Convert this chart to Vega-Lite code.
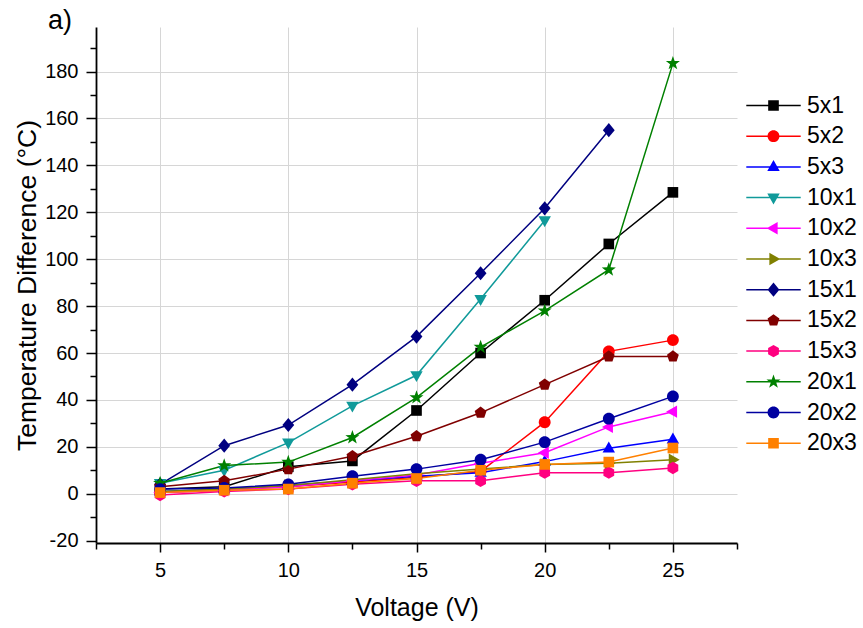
{
  "$schema": "https://vega.github.io/schema/vega-lite/v6.json",
  "autosize": {"type": "none"},
  "width": 641,
  "height": 516,
  "padding": {"left": 96, "top": 27, "right": 126, "bottom": 85},
  "background": "white",
  "config": {"font": "Liberation Sans", "view": {"stroke": null}},
  "title": {"text": "a)", "anchor": "start", "frame": "group", "dx": -48, "dy": 28, "offset": -1, "baseline": "alphabetic", "fontSize": 27, "fontWeight": "normal", "color": "black", "font": "Liberation Sans"},
  "data": {"values": [
    {"s": "5x1", "v": 5, "t": 2}, {"s": "5x1", "v": 7.5, "t": 3}, {"s": "5x1", "v": 10, "t": 11.5}, {"s": "5x1", "v": 12.5, "t": 14}, {"s": "5x1", "v": 15, "t": 35.5}, {"s": "5x1", "v": 17.5, "t": 60}, {"s": "5x1", "v": 20, "t": 82.5}, {"s": "5x1", "v": 22.5, "t": 106.5}, {"s": "5x1", "v": 25, "t": 128.5},
    {"s": "5x2", "v": 5, "t": 0.5}, {"s": "5x2", "v": 7.5, "t": 1.5}, {"s": "5x2", "v": 10, "t": 3}, {"s": "5x2", "v": 12.5, "t": 5}, {"s": "5x2", "v": 15, "t": 7}, {"s": "5x2", "v": 17.5, "t": 9.5}, {"s": "5x2", "v": 20, "t": 30.5}, {"s": "5x2", "v": 22.5, "t": 60.7}, {"s": "5x2", "v": 25, "t": 65.5},
    {"s": "5x3", "v": 5, "t": 1}, {"s": "5x3", "v": 7.5, "t": 2}, {"s": "5x3", "v": 10, "t": 3.5}, {"s": "5x3", "v": 12.5, "t": 5.5}, {"s": "5x3", "v": 15, "t": 7.5}, {"s": "5x3", "v": 17.5, "t": 9}, {"s": "5x3", "v": 20, "t": 13.7}, {"s": "5x3", "v": 22.5, "t": 19.4}, {"s": "5x3", "v": 25, "t": 23.2},
    {"s": "10x1", "v": 5, "t": 4.5}, {"s": "10x1", "v": 7.5, "t": 10}, {"s": "10x1", "v": 10, "t": 21.8}, {"s": "10x1", "v": 12.5, "t": 37.5}, {"s": "10x1", "v": 15, "t": 50.5}, {"s": "10x1", "v": 17.5, "t": 83}, {"s": "10x1", "v": 20, "t": 116.5},
    {"s": "10x2", "v": 5, "t": 0.5}, {"s": "10x2", "v": 7.5, "t": 1.5}, {"s": "10x2", "v": 10, "t": 3}, {"s": "10x2", "v": 12.5, "t": 5.5}, {"s": "10x2", "v": 15, "t": 8}, {"s": "10x2", "v": 17.5, "t": 13}, {"s": "10x2", "v": 20, "t": 17.5}, {"s": "10x2", "v": 22.5, "t": 28.5}, {"s": "10x2", "v": 25, "t": 35},
    {"s": "10x3", "v": 5, "t": 1}, {"s": "10x3", "v": 7.5, "t": 2}, {"s": "10x3", "v": 10, "t": 3.5}, {"s": "10x3", "v": 12.5, "t": 6}, {"s": "10x3", "v": 15, "t": 8.5}, {"s": "10x3", "v": 17.5, "t": 10.5}, {"s": "10x3", "v": 20, "t": 12.5}, {"s": "10x3", "v": 22.5, "t": 13}, {"s": "10x3", "v": 25, "t": 14.5},
    {"s": "15x1", "v": 5, "t": 4}, {"s": "15x1", "v": 7.5, "t": 20.5}, {"s": "15x1", "v": 10, "t": 29.3}, {"s": "15x1", "v": 12.5, "t": 46.5}, {"s": "15x1", "v": 15, "t": 67}, {"s": "15x1", "v": 17.5, "t": 94}, {"s": "15x1", "v": 20, "t": 121.7}, {"s": "15x1", "v": 22.5, "t": 155},
    {"s": "15x2", "v": 5, "t": 3}, {"s": "15x2", "v": 7.5, "t": 5.5}, {"s": "15x2", "v": 10, "t": 10.5}, {"s": "15x2", "v": 12.5, "t": 16}, {"s": "15x2", "v": 15, "t": 24.5}, {"s": "15x2", "v": 17.5, "t": 34.5}, {"s": "15x2", "v": 20, "t": 46.5}, {"s": "15x2", "v": 22.5, "t": 58.5}, {"s": "15x2", "v": 25, "t": 58.5},
    {"s": "15x3", "v": 5, "t": -0.5}, {"s": "15x3", "v": 7.5, "t": 1}, {"s": "15x3", "v": 10, "t": 2}, {"s": "15x3", "v": 12.5, "t": 4}, {"s": "15x3", "v": 15, "t": 5.5}, {"s": "15x3", "v": 17.5, "t": 5.5}, {"s": "15x3", "v": 20, "t": 9}, {"s": "15x3", "v": 22.5, "t": 9}, {"s": "15x3", "v": 25, "t": 11},
    {"s": "20x1", "v": 5, "t": 4.5}, {"s": "20x1", "v": 7.5, "t": 12}, {"s": "20x1", "v": 10, "t": 13.5}, {"s": "20x1", "v": 12.5, "t": 24}, {"s": "20x1", "v": 15, "t": 41}, {"s": "20x1", "v": 17.5, "t": 62.5}, {"s": "20x1", "v": 20, "t": 78}, {"s": "20x1", "v": 22.5, "t": 95.5}, {"s": "20x1", "v": 25, "t": 183.5},
    {"s": "20x2", "v": 5, "t": 2}, {"s": "20x2", "v": 7.5, "t": 2.5}, {"s": "20x2", "v": 10, "t": 4}, {"s": "20x2", "v": 12.5, "t": 7.5}, {"s": "20x2", "v": 15, "t": 10.5}, {"s": "20x2", "v": 17.5, "t": 14.5}, {"s": "20x2", "v": 20, "t": 22}, {"s": "20x2", "v": 22.5, "t": 32}, {"s": "20x2", "v": 25, "t": 41.5},
    {"s": "20x3", "v": 5, "t": 0.5}, {"s": "20x3", "v": 7.5, "t": 1.5}, {"s": "20x3", "v": 10, "t": 2}, {"s": "20x3", "v": 12.5, "t": 4.5}, {"s": "20x3", "v": 15, "t": 6.5}, {"s": "20x3", "v": 17.5, "t": 10}, {"s": "20x3", "v": 20, "t": 12.5}, {"s": "20x3", "v": 22.5, "t": 13.5}, {"s": "20x3", "v": 25, "t": 19.5}
  ]},
  "encoding": {
    "x": {
      "field": "v", "type": "quantitative",
      "scale": {"domain": [2.5, 27.5], "nice": false, "zero": false},
      "axis": {
        "title": "Voltage (V)",
        "values": [2.5, 5, 7.5, 10, 12.5, 15, 17.5, 20, 22.5, 25, 27.5],
        "labelExpr": "datum.value % 5 === 0 ? '' + datum.value : ''",
        "labelFont": "Liberation Sans", "labelFontSize": 20, "labelColor": "black", "labelPadding": 8,
        "labelFlush": false, "labelOverlap": false,
        "domainColor": "black", "domainWidth": 1.8,
        "tickColor": "black", "tickWidth": 1.5,
        "tickSize": {"condition": {"test": "datum.value % 5 === 0", "value": 9}, "value": 6},
        "grid": true, "gridColor": "#d6d6d6", "gridWidth": 1,
        "gridOpacity": {"condition": {"test": "datum.value % 5 === 0 && datum.value >= 5 && datum.value <= 25", "value": 1}, "value": 0},
        "titleFont": "Liberation Sans", "titleFontSize": 25, "titleFontWeight": "normal", "titleColor": "black",
        "titleBaseline": "alphabetic", "titleY": 72
      }
    },
    "y": {
      "field": "t", "type": "quantitative",
      "scale": {"domain": [-21, 199], "nice": false, "zero": false},
      "axis": {
        "title": "Temperature Difference (°C)",
        "values": [-20, -10, 0, 10, 20, 30, 40, 50, 60, 70, 80, 90, 100, 110, 120, 130, 140, 150, 160, 170, 180, 190],
        "labelExpr": "datum.value % 20 === 0 ? '' + datum.value : ''",
        "labelFont": "Liberation Sans", "labelFontSize": 20, "labelColor": "black", "labelPadding": 8,
        "labelFlush": false, "labelOverlap": false,
        "domainColor": "black", "domainWidth": 1.8,
        "tickColor": "black", "tickWidth": 1.5,
        "tickSize": {"condition": {"test": "datum.value % 20 === 0", "value": 10}, "value": 6},
        "grid": true, "gridColor": "#d6d6d6", "gridWidth": 1,
        "gridOpacity": {"condition": {"test": "datum.value % 20 === 0 && datum.value >= 0", "value": 1}, "value": 0},
        "titleFont": "Liberation Sans", "titleFontSize": 26.5, "titleFontWeight": "normal", "titleColor": "black",
        "titleBaseline": "alphabetic", "titleX": -61
      }
    }
  },
  "layer": [
    {
      "mark": {"type": "line", "strokeWidth": 1.5},
      "encoding": {
        "stroke": {
          "field": "s", "type": "nominal",
          "scale": {
            "domain": ["20x3", "20x2", "20x1", "15x3", "15x2", "15x1", "10x3", "10x2", "10x1", "5x3", "5x2", "5x1"],
            "range": ["#ff8000", "#0000a0", "#008000", "#ff0080", "#800000", "#000080", "#808000", "#ff00ff", "#109a9a", "#0000ff", "#ff0000", "#000000"]
          },
          "legend": null
        }
      }
    },
    {
      "mark": {"type": "point", "filled": true, "opacity": 1, "size": 140},
      "encoding": {
        "color": {
          "field": "s", "type": "nominal",
          "scale": {
            "domain": ["5x1", "5x2", "5x3", "10x1", "10x2", "10x3", "15x1", "15x2", "15x3", "20x1", "20x2", "20x3"],
            "range": ["#000000", "#ff0000", "#0000ff", "#109a9a", "#ff00ff", "#808000", "#000080", "#800000", "#ff0080", "#008000", "#0000a0", "#ff8000"]
          },
          "legend": {
            "title": null, "orient": "none", "legendX": 666, "legendY": 67, "padding": 0,
            "symbolSize": 140, "symbolStrokeWidth": 0, "symbolOpacity": 1,
            "symbolType": {"expr": "scale('shape', datum.value) + 'M-4.6,-0.13L4.6,-0.13L4.6,0.13L-4.6,0.13Z'"},
            "labelFont": "Liberation Sans", "labelFontSize": 23, "labelColor": "black",
            "labelOffset": 22, "rowPadding": 6.7
          }
        },
        "shape": {
          "field": "s", "type": "nominal",
          "scale": {
            "domain": ["20x3", "20x2", "20x1", "15x3", "15x2", "15x1", "10x3", "10x2", "10x1", "5x3", "5x2", "5x1"],
            "range": [
              "M-0.9,-0.9L0.9,-0.9L0.9,0.9L-0.9,0.9Z",
              "M1,0A1,1,0,1,1,-1,0A1,1,0,1,1,1,0Z",
              "M0,-1.25L0.294,-0.405L1.189,-0.386L0.476,0.155L0.735,1.011L0,0.5L-0.735,1.011L-0.476,0.155L-1.189,-0.386L-0.294,-0.405Z",
              "M0,-1.05L0.91,-0.52L0.91,0.52L0,1.05L-0.91,0.52L-0.91,-0.52Z",
              "M0,-1.05L1,-0.32L0.62,0.85L-0.62,0.85L-1,-0.32Z",
              "M0,-1.2L1,0L0,1.2L-1,0Z",
              "M1.15,0L-0.7,1.05L-0.7,-1.05Z",
              "M-1.15,0L0.7,-1.05L0.7,1.05Z",
              "M0,1.15L-1.05,-0.7L1.05,-0.7Z",
              "M0,-1.15L1.05,0.7L-1.05,0.7Z",
              "M1,0A1,1,0,1,1,-1,0A1,1,0,1,1,1,0Z",
              "M-0.9,-0.9L0.9,-0.9L0.9,0.9L-0.9,0.9Z"
            ]
          },
          "legend": null
        }
      }
    }
  ]
}
